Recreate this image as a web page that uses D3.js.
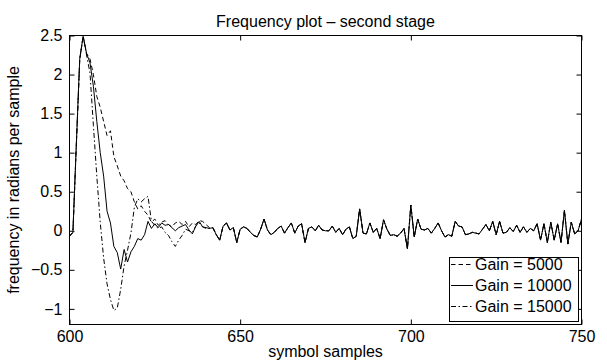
<!DOCTYPE html>
<html><head><meta charset="utf-8">
<script src="https://cdn.jsdelivr.net/npm/d3@7"></script>
<style>
body{margin:0;background:#fff}
svg{display:block}
text{font-family:"Liberation Sans",Arial,Helvetica,sans-serif;fill:#000}
</style>
</head><body>
<svg id="c" width="607" height="362"></svg>
<script>
// ---------- data ----------
const sampleStart = 600;
const sampleEnd = 750;
const xTicks = [600, 650, 700, 750];
const yTicks = [-1, -0.5, 0, 0.5, 1, 1.5, 2, 2.5];
const seriesNames = ["Gain = 5000", "Gain = 10000", "Gain = 15000"];

// samples 600..641
const head5000 = [
  -0.07, -0.02, 1.1, 2.2, 2.49, 2.27, 2.2, 2.0, 1.72, 1.58,
  1.4, 1.22, 1.28, 0.95, 0.83, 0.7, 0.64, 0.54, 0.5, 0.37,
  0.28, 0.32, 0.25, 0.2, 0.11, 0.15, 0.07, 0.11, 0.13, 0.08,
  0.05, 0.1, 0.12, 0.08, 0.12, 0.05, 0.1, 0.08, 0.13, 0.12,
  0.08, 0.04
];
const head10000 = [
  -0.07, -0.02, 1.1, 2.2, 2.49, 2.27, 2.15, 1.85, 1.4, 1.0,
  0.7, 0.25, 0.1, -0.2, -0.28, -0.49, -0.24, -0.4, -0.27, -0.2,
  -0.1, -0.12, -0.05, 0.12, 0.03, 0.09, 0.04, 0.1, 0.07, 0.08,
  0.04, 0.0, 0.04, 0.06, 0.08, 0.01, -0.04, 0.06, 0.12, 0.05,
  0.04, 0.03
];
const head15000 = [
  -0.07, -0.02, 1.1, 2.2, 2.49, 2.25, 2.02, 1.35, 0.7, 0.11,
  -0.35, -0.68, -0.88, -1.02, -0.99, -0.75, -0.45, -0.25, -0.03, 0.3,
  0.41, 0.37, 0.41, 0.44, 0.12, 0.07, 0.03, 0.05, -0.02, -0.06,
  -0.14, -0.2, -0.12, -0.06, 0.02, 0.0, -0.02, 0.06, 0.1, 0.05,
  0.03, 0.03
];
// samples 642..750 (identical for all gains)
const sharedTail = [
  0.04, -0.05, -0.12, 0.06, 0.1, 0.01, 0.04, -0.15,            // 642-649
  0.02, 0.05, 0.03, -0.02, -0.06, -0.08, 0.02, 0.15, 0.01, -0.05, // 650-659
  -0.02, 0.03, 0.06, -0.03, 0.04, 0.1, -0.03, 0.06, 0.09, -0.15,  // 660-669
  0.03, 0.05, 0.0, 0.07, 0.01, 0.0, 0.0, 0.06, -0.02, 0.03,       // 670-679
  -0.05, 0.02, 0.05, -0.1, -0.07, 0.28, -0.03, -0.04, 0.1, -0.02, // 680-689
  0.03, -0.1, 0.14, 0.02, -0.06, -0.05, -0.07, -0.03, 0.03, -0.23,// 690-699
  0.33, -0.08, 0.15, 0.02, 0.01, 0.03, -0.03, 0.03, 0.1, 0.0,     // 700-709
  -0.08, -0.05, -0.07, 0.12, 0.06, 0.05, -0.05, -0.04, -0.02, -0.03, // 710-719
  -0.04, 0.02, 0.08, 0.0, 0.12, -0.05, 0.12, -0.03, -0.02, 0.04,  // 720-729
  -0.01, 0.07, -0.02, 0.05, -0.02, 0.03, 0.0, 0.09, -0.12, 0.09,  // 730-739
  -0.15, 0.11, -0.12, 0.09, -0.15, 0.26, -0.17, 0.11, -0.04, 0.0, // 740-749
  0.15                                                            // 750
];

const samples = d3.range(sampleStart, sampleEnd + 1);
const seriesValues = [
  head5000.concat(sharedTail),
  head10000.concat(sharedTail),
  head15000.concat(sharedTail)
];
const dashes = ["4.5,3", null, "5,2.5,1.5,2.5"];

// ---------- layout ----------
const L = 69.5, R = 581.5, T = 35.5, B = 324.5;
const FS = 16;
const svg = d3.select("#c");
const x = d3.scaleLinear().domain([sampleStart, sampleEnd]).range([L, R]);
const y = d3.scaleLinear().domain([-1.2, 2.5]).range([B, T]);
const fmt = d => String(d).replace("-", "\u2212");

svg.append("rect").attr("width", 607).attr("height", 362).attr("fill", "#fff");

// clip
svg.append("clipPath").attr("id", "clip").append("rect")
  .attr("x", L).attr("y", T).attr("width", R - L).attr("height", B - T);

// lines
const line = d3.line().x((d, i) => x(samples[i])).y(d => y(d));
const g = svg.append("g").attr("clip-path", "url(#clip)");
seriesValues.forEach((vals, k) => {
  g.append("path").datum(vals)
    .attr("d", line)
    .attr("fill", "none")
    .attr("stroke", "#000")
    .attr("stroke-width", 1)
    .attr("stroke-dasharray", dashes[k]);
});

// axes
function styleAxis(sel) {
  sel.select(".domain").remove();
  sel.selectAll("line").attr("stroke", "#000");
  sel.selectAll("text").attr("font-size", FS).style("font-family", '"Liberation Sans",Arial,sans-serif');
}
svg.append("g").attr("transform", `translate(0,${B})`)
  .call(d3.axisBottom(x).tickValues(xTicks).tickSize(-5).tickPadding(6).tickFormat(fmt)).call(styleAxis);
svg.append("g").attr("transform", `translate(0,${T})`)
  .call(d3.axisTop(x).tickValues(xTicks).tickSize(-5).tickFormat("")).call(styleAxis);
svg.append("g").attr("transform", `translate(${L},0)`)
  .call(d3.axisLeft(y).tickValues(yTicks).tickSize(-5).tickPadding(7).tickFormat(fmt)).call(styleAxis);
svg.append("g").attr("transform", `translate(${R},0)`)
  .call(d3.axisRight(y).tickValues(yTicks).tickSize(-5).tickFormat("")).call(styleAxis);

svg.append("rect").attr("x", L).attr("y", T).attr("width", R - L).attr("height", B - T)
  .attr("fill", "none").attr("stroke", "#000").attr("stroke-width", 1);

// texts
svg.append("text").attr("x", (L + R) / 2).attr("y", 27).attr("text-anchor", "middle")
  .attr("font-size", FS).text("Frequency plot \u2013 second stage");
svg.append("text").attr("x", (L + R) / 2).attr("y", 357).attr("text-anchor", "middle")
  .attr("font-size", FS).text("symbol samples");
svg.append("text").attr("transform", `translate(19,${(T + B) / 2}) rotate(-90)`)
  .attr("text-anchor", "middle").attr("font-size", FS).text("frequency in radians per sample");

// legend
const lg = svg.append("g");
lg.append("rect").attr("x", 449.5).attr("y", 257.5).attr("width", 129).attr("height", 64)
  .attr("fill", "#fff").attr("stroke", "#000").attr("stroke-width", 1);
seriesNames.forEach((name, k) => {
  const base = 270 + k * 21;
  lg.append("line").attr("x1", 451).attr("x2", 473).attr("y1", base - 5.5).attr("y2", base - 5.5)
    .attr("stroke", "#000").attr("stroke-width", 1).attr("stroke-dasharray", dashes[k]);
  lg.append("text").attr("x", 475).attr("y", base).attr("font-size", FS).text(name);
});
</script>
</body></html>
